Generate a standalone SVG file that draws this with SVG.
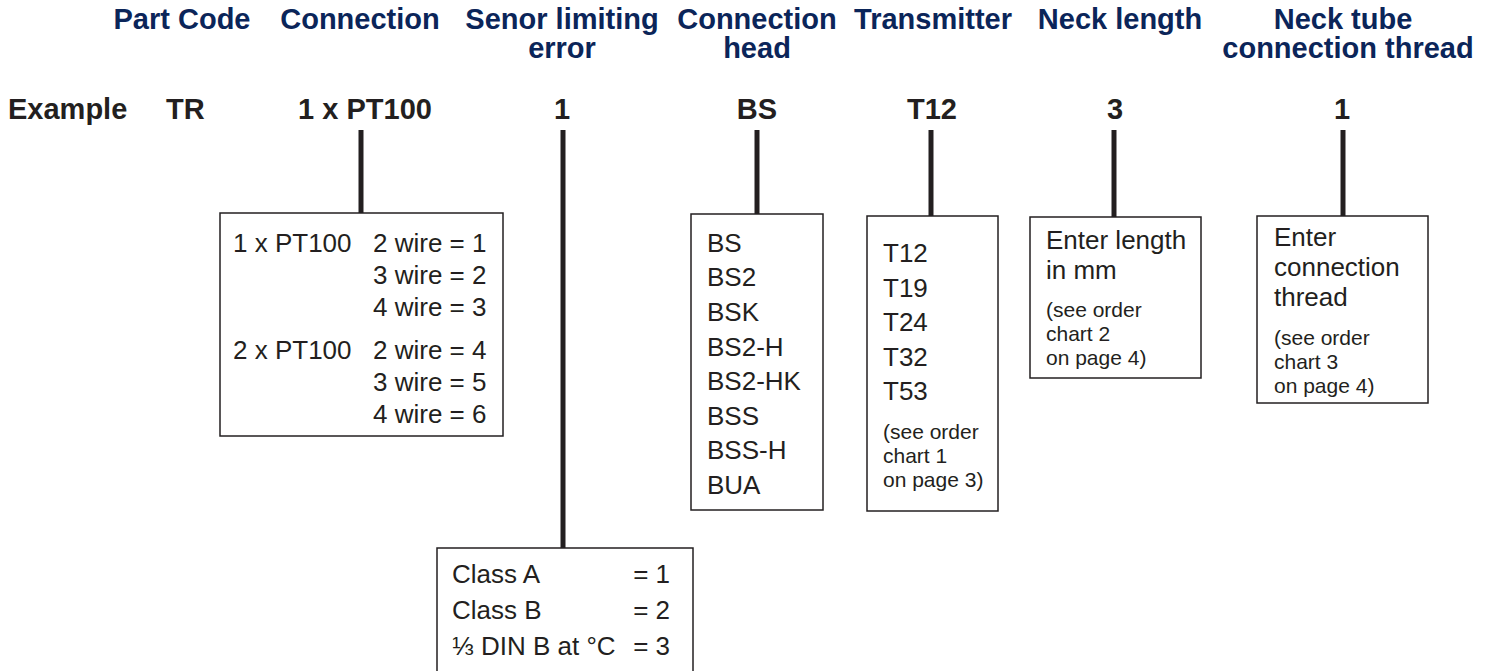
<svg xmlns="http://www.w3.org/2000/svg" width="1486" height="671" viewBox="0 0 1486 671">
<style>
.hd{font-family:"Liberation Sans",Arial,sans-serif;font-weight:bold;font-size:29px;fill:#0b2559;text-anchor:middle}
.ex{font-family:"Liberation Sans",Arial,sans-serif;font-weight:bold;font-size:29px;fill:#231f20}
.t{font-family:"Liberation Sans",Arial,sans-serif;font-size:26px;fill:#231f20}
.s{font-family:"Liberation Sans",Arial,sans-serif;font-size:21px;fill:#231f20}
.box{fill:#fff;stroke:#231f20;stroke-width:1.5}
.ln{stroke:#231f20;stroke-width:5;fill:none}
</style>
<rect width="1486" height="671" fill="#fff"/>
<g id="headers">
<text class="hd" x="182" y="29">Part Code</text>
<text class="hd" x="360" y="29">Connection</text>
<text class="hd" x="562" y="29">Senor limiting</text>
<text class="hd" x="562" y="58">error</text>
<text class="hd" x="757" y="29">Connection</text>
<text class="hd" x="757" y="58">head</text>
<text class="hd" x="933" y="29">Transmitter</text>
<text class="hd" x="1120" y="29">Neck length</text>
<text class="hd" x="1343" y="29">Neck tube</text>
<text class="hd" x="1348" y="58">connection thread</text>
</g>
<g id="example">
<text class="ex" x="8" y="119">Example</text>
<text class="ex" x="166" y="119">TR</text>
<text class="ex" x="365" y="119" text-anchor="middle">1 x PT100</text>
<text class="ex" x="562" y="119" text-anchor="middle">1</text>
<text class="ex" x="757" y="119" text-anchor="middle">BS</text>
<text class="ex" x="932" y="119" text-anchor="middle">T12</text>
<text class="ex" x="1115" y="119" text-anchor="middle">3</text>
<text class="ex" x="1342" y="119" text-anchor="middle">1</text>
</g>
<g id="connectors">
<line class="ln" x1="361" y1="130" x2="361" y2="214"/>
<line class="ln" x1="563" y1="130" x2="563" y2="548"/>
<line class="ln" x1="757" y1="130" x2="757" y2="214"/>
<line class="ln" x1="931" y1="130" x2="931" y2="216"/>
<line class="ln" x1="1114" y1="130" x2="1114" y2="217"/>
<line class="ln" x1="1343" y1="130" x2="1343" y2="216"/>
</g>
<g id="node-connection">
<rect class="box" x="220" y="213" width="283" height="223"/>
<text class="t" x="233" y="252">1 x PT100</text>
<text class="t" x="373" y="252">2 wire = 1</text>
<text class="t" x="373" y="284">3 wire = 2</text>
<text class="t" x="373" y="316">4 wire = 3</text>
<text class="t" x="233" y="359">2 x PT100</text>
<text class="t" x="373" y="359">2 wire = 4</text>
<text class="t" x="373" y="391">3 wire = 5</text>
<text class="t" x="373" y="423">4 wire = 6</text>
</g>
<g id="node-limiting-error">
<rect class="box" x="437" y="548" width="256" height="130"/>
<text class="t" x="452" y="583">Class A</text>
<text class="t" x="670" y="583" text-anchor="end">= 1</text>
<text class="t" x="452" y="619">Class B</text>
<text class="t" x="670" y="619" text-anchor="end">= 2</text>
<text class="t" x="452" y="655">⅓ DIN B at °C</text>
<text class="t" x="670" y="655" text-anchor="end">= 3</text>
</g>
<g id="node-head">
<rect class="box" x="691" y="214" width="132" height="296"/>
<text class="t" x="707" y="252">BS</text>
<text class="t" x="707" y="286">BS2</text>
<text class="t" x="707" y="321">BSK</text>
<text class="t" x="707" y="356">BS2-H</text>
<text class="t" x="707" y="390">BS2-HK</text>
<text class="t" x="707" y="425">BSS</text>
<text class="t" x="707" y="459">BSS-H</text>
<text class="t" x="707" y="494">BUA</text>
</g>
<g id="node-transmitter">
<rect class="box" x="867" y="216" width="131" height="295"/>
<text class="t" x="883" y="262">T12</text>
<text class="t" x="883" y="297">T19</text>
<text class="t" x="883" y="331">T24</text>
<text class="t" x="883" y="366">T32</text>
<text class="t" x="883" y="400">T53</text>
<text class="s" x="883" y="439">(see order</text>
<text class="s" x="883" y="463">chart 1</text>
<text class="s" x="883" y="487">on page 3)</text>
</g>
<g id="node-neck-length">
<rect class="box" x="1030" y="217" width="171" height="161"/>
<text class="t" x="1046" y="249">Enter length</text>
<text class="t" x="1046" y="279">in mm</text>
<text class="s" x="1046" y="317">(see order</text>
<text class="s" x="1046" y="341">chart 2</text>
<text class="s" x="1046" y="365">on page 4)</text>
</g>
<g id="node-thread">
<rect class="box" x="1257" y="216" width="171" height="187"/>
<text class="t" x="1274" y="246">Enter</text>
<text class="t" x="1274" y="276">connection</text>
<text class="t" x="1274" y="306">thread</text>
<text class="s" x="1274" y="345">(see order</text>
<text class="s" x="1274" y="369">chart 3</text>
<text class="s" x="1274" y="393">on page 4)</text>
</g>
</svg>
